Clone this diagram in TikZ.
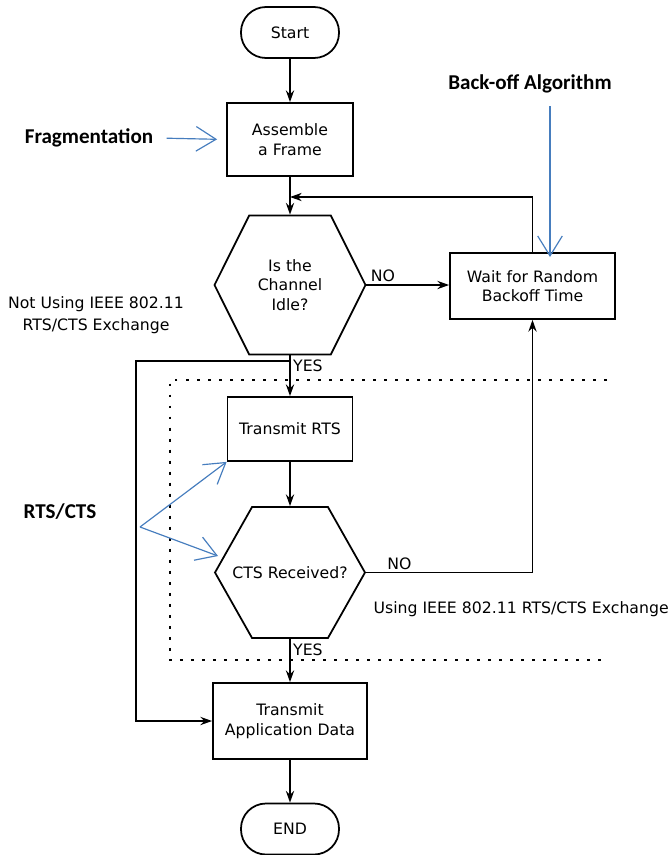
\documentclass[tikz,border=0pt]{standalone}
\usepackage{fontspec}
\setmainfont{DejaVu Sans}
\newfontfamily\notefont{Carlito}
\usetikzlibrary{arrows.meta,shapes.symbols}
\definecolor{noteblue}{RGB}{70,125,190}
\newcommand\pxu{0.03cm}
\tikzset{
  base/.style={draw,line width=1.5pt,align=center,inner sep=2pt,
    font=\fontsize{13.4}{16.6}\selectfont},
  term/.style={base,rounded corners=25*\pxu,minimum width=98*\pxu,minimum height=51*\pxu},
  proc/.style={base,rectangle},
  hexa/.style={base,shape=signal,signal to=east and west,signal from=nowhere},
  lbl/.style={font=\fontsize{13.4}{19}\selectfont,inner sep=2pt,align=center},
  note/.style={font=\fontsize{18}{21}\selectfont\notefont\bfseries},
  arr/.style={-{Stealth[length=10pt,width=7pt]},line width=1.5pt},
  hint/.style={-{Straight Barb[length=17pt,width=21pt]},line width=1pt,noteblue},
  fence/.style={line width=1.6pt,dash pattern=on 2.5pt off 6.9pt}
}
\begin{document}
\begin{tikzpicture}[x=0.03cm,y=-0.03cm]
  \useasboundingbox[fill=white] (0,0) rectangle (668,855);
  \node[term] (start) at (290,32.5) {Start};
  \node[proc,minimum width=126*\pxu,minimum height=73*\pxu] (assemble) at (290,139.5) {Assemble\\a Frame};
  \node[hexa,signal pointer angle=127,minimum width=151*\pxu,minimum height=139*\pxu] (idle) at (290,285) {Is the\\Channel\\Idle?};
  \node[proc,minimum width=165*\pxu,minimum height=66*\pxu] (wait) at (532.5,286) {Wait for Random\\Backoff Time};
  \node[proc,minimum width=125*\pxu,minimum height=64*\pxu] (rts) at (290,429) {Transmit RTS};
  \node[hexa,signal pointer angle=121,inner xsep=-20*\pxu,minimum width=150*\pxu,minimum height=131*\pxu] (cts) at (290,572.5) {CTS Received?};
  \node[proc,minimum width=154*\pxu,minimum height=76*\pxu] (data) at (290,721) {Transmit\\Application Data};
  \node[term] (end) at (290,829) {END};

  \node[lbl] (notuse) at (96,315) {Not Using IEEE 802.11\\RTS/CTS Exchange};
  \node[lbl,anchor=west] (use) at (371,609) {Using IEEE 802.11 RTS/CTS Exchange};
  \draw[fence] (607,380) -- (170,380) -- (170,660) -- (605,660);

  \coordinate (merge) at (290,197);
  \coordinate (split) at (290,361);
  \coordinate (bend) at (136,361);
  \begin{scope}[arr]
    \draw (start) -- (assemble);
    \draw (assemble) -- (idle);
    \draw (wait.north) |- (merge);
    \draw (idle.east) -- node[lbl,above,pos=0.2] {NO} (idle.east -| wait.west);
    \draw (idle.south) -- node[lbl,right,pos=0.25] {YES} (rts.north);
    \draw (split) -- (bend) |- (data.west);
    \draw (rts) -- (cts);
    \draw (cts.east) -| node[lbl,above,pos=0.1] {NO} (wait.south);
    \draw (cts.south) -- node[lbl,right,pos=0.25] {YES} (data.north);
    \draw (data) -- (end);
  \end{scope}

  \node[note] (frag) at (89,138) {Fragmentation};
  \node[note] (algo) at (530,84) {Back-off Algorithm};
  \node[note] (rtscts) at (60,512) {RTS/CTS};
  \coordinate (algotip) at (550,257);
  \coordinate (fork) at (140,527);
  \coordinate (ctstip) at (218,556);
  \begin{scope}[hint]
    \draw[shorten <=8pt,shorten >=7.7pt] (frag.east) -- (assemble.west);
    \draw (algotip |- 0,106) -- (algotip);
    \draw (fork) -- (rts.south west);
    \draw (fork) -- (ctstip);
  \end{scope}
\end{tikzpicture}
\end{document}
